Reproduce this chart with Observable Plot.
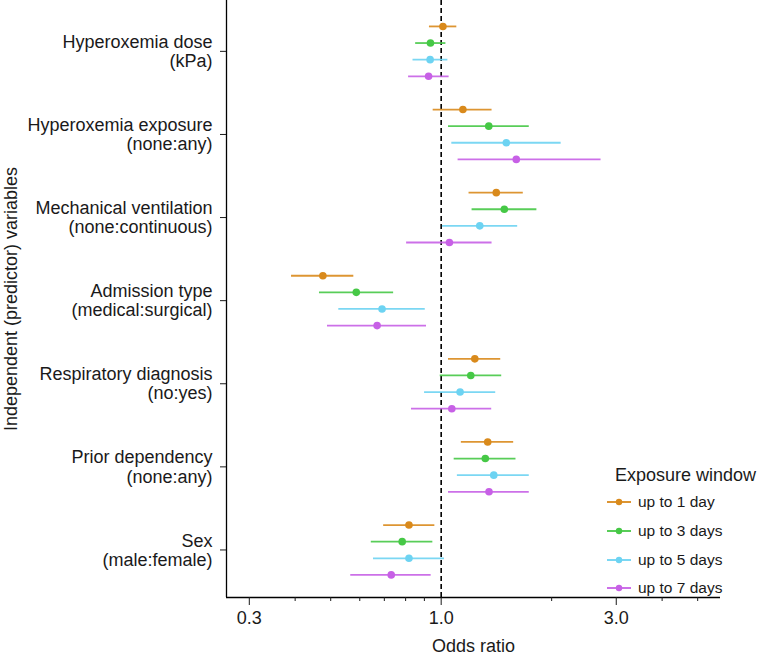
<!DOCTYPE html>
<html>
<head>
<meta charset="utf-8">
<script src="https://cdn.jsdelivr.net/npm/d3@7"></script>
<script src="https://cdn.jsdelivr.net/npm/@observablehq/plot@0.6"></script>
<style>
  html, body { margin: 0; padding: 0; background: #fff; }
  #wrap { position: relative; width: 765px; height: 657px; font-family: "Liberation Sans", Arial, Helvetica, sans-serif; color: #1a1a1a; }
  #legend { position: absolute; left: 606px; top: 462px; font-size: 15.5px; }
  #legend .title { font-size: 18px; margin-left: 9px; height: 26px; line-height: 26px; white-space: nowrap; }
  #legend .item { display: flex; align-items: center; height: 28.7px; white-space: nowrap; }
  #legend .item span { margin-left: 6px; }
</style>
</head>
<body>
<div id="wrap"></div>
<script>
// ---- data ----
const predictors = [
  "Hyperoxemia dose\n(kPa)",
  "Hyperoxemia exposure\n(none:any)",
  "Mechanical ventilation\n(none:continuous)",
  "Admission type\n(medical:surgical)",
  "Respiratory diagnosis\n(no:yes)",
  "Prior dependency\n(none:any)",
  "Sex\n(male:female)"
];
const windows = ["up to 1 day", "up to 3 days", "up to 5 days", "up to 7 days"];
const windowColors = ["#d98a1c", "#46c846", "#6dd3f2", "#c760e6"];

// odds ratios (rows: windows; columns: predictors)
const oddsRatio = [
  [1.011, 1.146, 1.413, 0.476, 1.235, 1.339, 0.817],
  [0.935, 1.348, 1.486, 0.587, 1.204, 1.319, 0.783],
  [0.933, 1.505, 1.274, 0.690, 1.126, 1.391, 0.817],
  [0.924, 1.602, 1.053, 0.669, 1.069, 1.350, 0.731]
];
const lowerCI = [
  [0.929, 0.951, 1.191, 0.391, 1.047, 1.135, 0.697],
  [0.852, 1.047, 1.214, 0.466, 0.994, 1.085, 0.645],
  [0.838, 1.069, 1.008, 0.526, 0.901, 1.107, 0.654],
  [0.815, 1.112, 0.805, 0.490, 0.830, 1.047, 0.567]
];
const upperCI = [
  [1.103, 1.376, 1.674, 0.578, 1.453, 1.576, 0.961],
  [1.030, 1.738, 1.823, 0.742, 1.462, 1.599, 0.949],
  [1.043, 2.123, 1.616, 0.905, 1.408, 1.738, 1.021],
  [1.051, 2.727, 1.376, 0.912, 1.373, 1.738, 0.939]
];
const majorTicks = [0.3, 1.0, 3.0];
const minorTicks = [0.4, 0.5, 0.6, 0.7, 0.8, 0.9, 2, 4, 5];
const referenceOR = [1];

// ---- layout helpers ----
const slotsPerGroup = 5;
const xDomain = [0.26, 5.77];
const yDomain = [-1.56, 34.36];

const rows = predictors.flatMap((p, i) => windows.map((w, j) => ({
  predictor: p, window: w, slot: i * slotsPerGroup + j,
  or: oddsRatio[j][i], lo: lowerCI[j][i], hi: upperCI[j][i]
})));
const groupCenters = predictors.map((_, i) => i * slotsPerGroup + 1.5);

const font = '"Liberation Sans", Arial, Helvetica, sans-serif';

const chart = Plot.plot({
  width: 765,
  height: 657,
  marginLeft: 226,
  marginRight: 45,
  marginTop: 0,
  marginBottom: 60,
  style: { fontFamily: font, fontSize: "18px", color: "#1a1a1a", background: "white" },
  x: { type: "log", domain: xDomain },
  y: { domain: yDomain, reverse: true },
  color: { domain: windows, range: windowColors },
  marks: [
    Plot.ruleX(referenceOR, { stroke: "black", strokeWidth: 1.6, strokeDasharray: "5,3" }),
    Plot.ruleY(rows, { y: "slot", x1: "lo", x2: "hi", stroke: "window", strokeWidth: 1.8, strokeOpacity: 0.9 }),
    Plot.dot(rows, { x: "or", y: "slot", fill: "window", r: 3.8 }),
    Plot.ruleX([xDomain[0]], { stroke: "black", strokeWidth: 1.3 }),
    Plot.ruleY([yDomain[1]], { stroke: "black", strokeWidth: 1.3 }),
    Plot.axisY({
      ticks: groupCenters,
      tickFormat: d => predictors[Math.round((d - 1.5) / slotsPerGroup)],
      tickSize: 6,
      tickPadding: 8,
      fontSize: 18,
      lineHeight: 1.06,
      label: "Independent (predictor) variables",
      labelAnchor: "center",
      labelOffset: 222,
      labelArrow: "none"
    }),
    Plot.axisX({
      ticks: majorTicks,
      tickFormat: d3.format(".1f"),
      tickSize: 8,
      tickPadding: 6,
      fontSize: 18,
      label: "Odds ratio",
      labelAnchor: "center",
      labelOffset: 54,
      labelArrow: "none"
    }),
    Plot.axisX({ ticks: minorTicks, tickSize: 4, tickFormat: () => "", label: null })
  ]
});
document.getElementById("wrap").appendChild(chart);

// ---- legend ----
const legend = document.createElement("div");
legend.id = "legend";
const title = document.createElement("div");
title.className = "title";
title.textContent = "Exposure window";
legend.appendChild(title);
windows.forEach((w, i) => {
  const item = document.createElement("div");
  item.className = "item";
  const sw = d3.create("svg").attr("width", 26).attr("height", 10);
  sw.append("line").attr("x1", 1).attr("x2", 25).attr("y1", 5).attr("y2", 5)
    .attr("stroke", windowColors[i]).attr("stroke-width", 1.8);
  sw.append("circle").attr("cx", 13).attr("cy", 5).attr("r", 3.2).attr("fill", windowColors[i]);
  item.appendChild(sw.node());
  const label = document.createElement("span");
  label.textContent = w;
  item.appendChild(label);
  legend.appendChild(item);
});
document.getElementById("wrap").appendChild(legend);
</script>
</body>
</html>
